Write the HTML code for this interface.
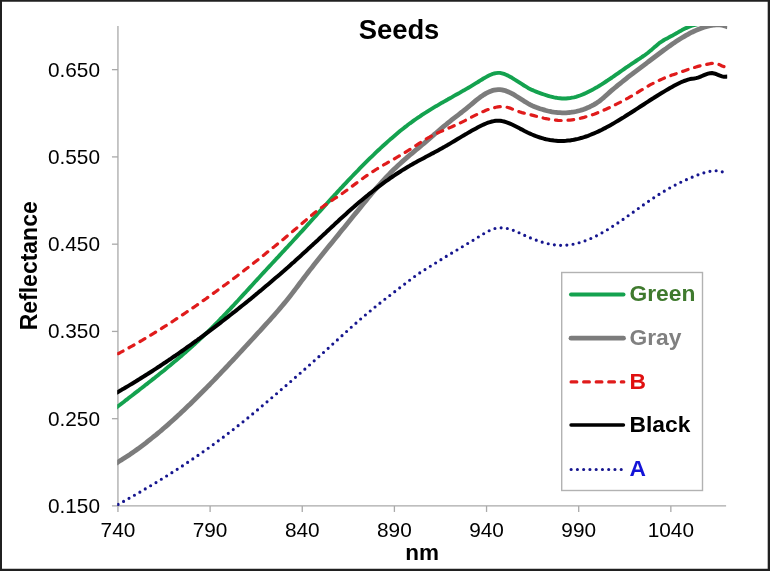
<!DOCTYPE html>
<html><head><meta charset="utf-8"><title>Seeds</title>
<style>
html,body{margin:0;padding:0;background:#fff;}
body{width:770px;height:571px;overflow:hidden;font-family:"Liberation Sans",sans-serif;}
svg{display:block;will-change:transform;}
</style></head><body>
<svg width="770" height="571" viewBox="0 0 770 571">
<rect x="0" y="0" width="770" height="571" fill="#fff"/>
<defs><clipPath id="cp"><rect x="117.2" y="26.1" width="610.0" height="482.8"/></clipPath></defs>
<g stroke="#a9a9a9" stroke-width="1.3" fill="none">
<path d="M117.95 26.10V511.95"/>
<path d="M111.95 505.95H726.10"/>
<path d="M210.10 505.95v6"/>
<path d="M302.25 505.95v6"/>
<path d="M394.40 505.95v6"/>
<path d="M486.55 505.95v6"/>
<path d="M578.70 505.95v6"/>
<path d="M670.85 505.95v6"/>
<path d="M117.95 418.69h-6"/>
<path d="M117.95 331.43h-6"/>
<path d="M117.95 244.17h-6"/>
<path d="M117.95 156.91h-6"/>
<path d="M117.95 69.65h-6"/>
</g>
<g clip-path="url(#cp)" fill="none" stroke-linejoin="round">
<path d="M113.0 410.2L118.0 406.3L120.0 404.8L122.0 403.2L124.0 401.7L126.0 400.1L128.0 398.6L130.0 397.0L132.0 395.5L134.0 393.9L136.0 392.4L138.0 390.9L140.0 389.3L142.0 387.8L144.0 386.2L146.0 384.6L148.0 383.1L150.0 381.5L152.0 379.9L154.0 378.4L156.0 376.8L158.0 375.2L160.0 373.6L162.0 372.0L164.0 370.4L166.0 368.7L168.0 367.1L170.0 365.5L172.0 363.8L174.0 362.1L176.0 360.5L178.0 358.8L180.0 357.1L182.0 355.4L184.0 353.6L186.0 351.9L188.0 350.1L190.0 348.3L192.0 346.6L194.0 344.7L196.0 342.9L198.0 341.1L200.0 339.2L202.0 337.3L204.0 335.4L206.0 333.5L208.0 331.6L210.0 329.6L212.0 327.7L214.0 325.7L216.0 323.6L218.0 321.6L220.0 319.5L222.0 317.5L224.0 315.4L226.0 313.3L228.0 311.2L230.0 309.1L232.0 306.9L234.0 304.8L236.0 302.6L238.0 300.5L240.0 298.3L242.0 296.1L244.0 293.9L246.0 291.8L248.0 289.6L250.0 287.4L252.0 285.2L254.0 283.0L256.0 280.8L258.0 278.7L260.0 276.5L262.0 274.3L264.0 272.1L266.0 270.0L268.0 267.8L270.0 265.7L272.0 263.5L274.0 261.4L276.0 259.2L278.0 257.1L280.0 254.9L282.0 252.7L284.0 250.6L286.0 248.4L288.0 246.3L290.0 244.1L292.0 242.0L294.0 239.8L296.0 237.6L298.0 235.4L300.0 233.2L302.0 231.1L304.0 228.9L306.0 226.7L308.0 224.4L310.0 222.2L312.0 220.0L314.0 217.8L316.0 215.6L318.0 213.3L320.0 211.1L322.0 208.9L324.0 206.7L326.0 204.5L328.0 202.3L330.0 200.1L332.0 197.9L334.0 195.7L336.0 193.6L338.0 191.4L340.0 189.2L342.0 187.1L344.0 184.9L346.0 182.8L348.0 180.7L350.0 178.6L352.0 176.5L354.0 174.4L356.0 172.3L358.0 170.3L360.0 168.2L362.0 166.2L364.0 164.2L366.0 162.2L368.0 160.2L370.0 158.2L372.0 156.3L374.0 154.4L376.0 152.4L378.0 150.5L380.0 148.7L382.0 146.8L384.0 145.0L386.0 143.2L388.0 141.4L390.0 139.6L392.0 137.9L394.0 136.2L396.0 134.5L398.0 132.8L400.0 131.1L402.0 129.5L404.0 127.9L406.0 126.4L408.0 124.8L410.0 123.3L412.0 121.9L414.0 120.4L416.0 119.0L418.0 117.6L420.0 116.3L422.0 114.9L424.0 113.6L426.0 112.4L428.0 111.1L430.0 109.8L432.0 108.6L434.0 107.4L436.0 106.2L438.0 105.1L440.0 103.9L442.0 102.7L444.0 101.6L446.0 100.5L448.0 99.3L450.0 98.2L452.0 97.1L454.0 95.9L456.0 94.8L458.0 93.7L460.0 92.6L462.0 91.4L464.0 90.3L466.0 89.1L468.0 88.0L470.0 86.8L472.0 85.6L474.0 84.4L476.0 83.2L478.0 82.0L480.0 80.7L482.0 79.5L484.0 78.2L486.0 77.1L488.0 76.0L490.0 75.0L492.0 74.2L494.0 73.5L496.0 73.1L498.0 72.9L500.0 72.9L502.0 73.3L504.0 73.9L506.0 74.7L508.0 75.6L510.0 76.7L512.0 77.8L514.0 79.1L516.0 80.3L518.0 81.6L520.0 82.9L522.0 84.2L524.0 85.5L526.0 86.7L528.0 87.9L530.0 88.9L532.0 89.9L534.0 90.8L536.0 91.6L538.0 92.4L540.0 93.1L542.0 93.8L544.0 94.5L546.0 95.2L548.0 95.8L550.0 96.4L552.0 96.9L554.0 97.4L556.0 97.7L558.0 98.1L560.0 98.3L562.0 98.5L564.0 98.5L566.0 98.5L568.0 98.3L570.0 98.1L572.0 97.7L574.0 97.3L576.0 96.8L578.0 96.2L580.0 95.5L582.0 94.7L584.0 93.9L586.0 93.0L588.0 92.0L590.0 91.0L592.0 90.0L594.0 88.9L596.0 87.7L598.0 86.6L600.0 85.3L602.0 84.1L604.0 82.8L606.0 81.5L608.0 80.2L610.0 78.8L612.0 77.5L614.0 76.1L616.0 74.7L618.0 73.3L620.0 71.9L622.0 70.5L624.0 69.1L626.0 67.7L628.0 66.4L630.0 65.0L632.0 63.6L634.0 62.3L636.0 61.0L638.0 59.7L640.0 58.4L642.0 57.0L644.0 55.7L646.0 54.2L648.0 52.7L650.0 51.1L652.0 49.4L654.0 47.6L656.0 45.9L658.0 44.2L660.0 42.6L662.0 41.3L664.0 40.0L666.0 38.9L668.0 37.9L670.0 36.8L672.0 35.8L674.0 34.6L676.0 33.5L678.0 32.4L680.0 31.2L682.0 30.1L684.0 29.1L686.0 28.1L688.0 27.2L690.0 26.4L692.0 25.7L694.0 25.2L696.0 24.6L698.0 24.1L700.0 23.5L702.0 22.9L704.0 22.2L706.0 21.4L708.0 20.7L710.0 19.9L712.0 19.2L714.0 18.4L716.0 17.8L718.0 17.1L720.0 16.6L722.0 16.1L724.0 15.8L726.0 15.6L728.0 15.5" stroke="#14a24f" stroke-width="3.9"/>
<path d="M113.0 465.1L118.0 462.1L120.0 460.8L122.0 459.6L124.0 458.3L126.0 457.0L128.0 455.7L130.0 454.4L132.0 453.0L134.0 451.6L136.0 450.2L138.0 448.8L140.0 447.3L142.0 445.8L144.0 444.3L146.0 442.8L148.0 441.2L150.0 439.6L152.0 438.0L154.0 436.4L156.0 434.8L158.0 433.1L160.0 431.5L162.0 429.8L164.0 428.0L166.0 426.3L168.0 424.6L170.0 422.8L172.0 421.0L174.0 419.2L176.0 417.4L178.0 415.5L180.0 413.7L182.0 411.8L184.0 409.9L186.0 408.0L188.0 406.1L190.0 404.2L192.0 402.2L194.0 400.3L196.0 398.3L198.0 396.3L200.0 394.3L202.0 392.3L204.0 390.3L206.0 388.3L208.0 386.2L210.0 384.2L212.0 382.1L214.0 380.1L216.0 378.0L218.0 375.9L220.0 373.8L222.0 371.7L224.0 369.6L226.0 367.5L228.0 365.4L230.0 363.2L232.0 361.1L234.0 359.0L236.0 356.8L238.0 354.7L240.0 352.5L242.0 350.3L244.0 348.2L246.0 346.0L248.0 343.8L250.0 341.7L252.0 339.5L254.0 337.3L256.0 335.1L258.0 332.9L260.0 330.8L262.0 328.6L264.0 326.4L266.0 324.2L268.0 322.0L270.0 319.8L272.0 317.5L274.0 315.3L276.0 313.0L278.0 310.7L280.0 308.4L282.0 306.0L284.0 303.6L286.0 301.2L288.0 298.7L290.0 296.2L292.0 293.6L294.0 291.0L296.0 288.4L298.0 285.7L300.0 283.0L302.0 280.4L304.0 277.7L306.0 275.1L308.0 272.5L310.0 269.9L312.0 267.4L314.0 264.8L316.0 262.3L318.0 259.8L320.0 257.3L322.0 254.8L324.0 252.3L326.0 249.8L328.0 247.3L330.0 244.9L332.0 242.4L334.0 240.0L336.0 237.5L338.0 235.1L340.0 232.6L342.0 230.1L344.0 227.7L346.0 225.2L348.0 222.8L350.0 220.3L352.0 217.8L354.0 215.3L356.0 212.9L358.0 210.4L360.0 207.9L362.0 205.5L364.0 203.0L366.0 200.6L368.0 198.1L370.0 195.7L372.0 193.3L374.0 191.0L376.0 188.6L378.0 186.3L380.0 184.1L382.0 181.8L384.0 179.6L386.0 177.5L388.0 175.4L390.0 173.3L392.0 171.3L394.0 169.3L396.0 167.4L398.0 165.5L400.0 163.7L402.0 161.9L404.0 160.1L406.0 158.4L408.0 156.6L410.0 154.9L412.0 153.3L414.0 151.6L416.0 149.9L418.0 148.3L420.0 146.6L422.0 144.9L424.0 143.3L426.0 141.6L428.0 139.9L430.0 138.2L432.0 136.5L434.0 134.7L436.0 133.0L438.0 131.3L440.0 129.6L442.0 127.9L444.0 126.2L446.0 124.6L448.0 122.9L450.0 121.3L452.0 119.7L454.0 118.1L456.0 116.6L458.0 115.1L460.0 113.5L462.0 112.0L464.0 110.4L466.0 108.8L468.0 107.2L470.0 105.5L472.0 103.8L474.0 102.1L476.0 100.4L478.0 98.8L480.0 97.3L482.0 95.9L484.0 94.6L486.0 93.4L488.0 92.4L490.0 91.5L492.0 90.7L494.0 90.2L496.0 89.8L498.0 89.6L500.0 89.6L502.0 89.8L504.0 90.3L506.0 90.9L508.0 91.7L510.0 92.6L512.0 93.6L514.0 94.7L516.0 96.0L518.0 97.2L520.0 98.5L522.0 99.8L524.0 101.1L526.0 102.3L528.0 103.5L530.0 104.6L532.0 105.6L534.0 106.5L536.0 107.3L538.0 108.0L540.0 108.7L542.0 109.3L544.0 109.9L546.0 110.5L548.0 111.0L550.0 111.4L552.0 111.8L554.0 112.1L556.0 112.3L558.0 112.6L560.0 112.7L562.0 112.8L564.0 112.8L566.0 112.8L568.0 112.6L570.0 112.5L572.0 112.2L574.0 111.9L576.0 111.5L578.0 111.0L580.0 110.5L582.0 109.9L584.0 109.2L586.0 108.4L588.0 107.6L590.0 106.7L592.0 105.7L594.0 104.6L596.0 103.4L598.0 102.1L600.0 100.7L602.0 99.0L604.0 97.3L606.0 95.5L608.0 93.7L610.0 91.9L612.0 90.2L614.0 88.5L616.0 86.9L618.0 85.2L620.0 83.6L622.0 82.0L624.0 80.4L626.0 78.8L628.0 77.2L630.0 75.7L632.0 74.2L634.0 72.6L636.0 71.1L638.0 69.6L640.0 68.1L642.0 66.6L644.0 65.1L646.0 63.6L648.0 62.0L650.0 60.5L652.0 59.0L654.0 57.5L656.0 56.0L658.0 54.5L660.0 53.0L662.0 51.5L664.0 50.0L666.0 48.6L668.0 47.1L670.0 45.7L672.0 44.3L674.0 42.9L676.0 41.6L678.0 40.3L680.0 39.0L682.0 37.8L684.0 36.6L686.0 35.4L688.0 34.3L690.0 33.2L692.0 32.2L694.0 31.3L696.0 30.4L698.0 29.5L700.0 28.7L702.0 28.0L704.0 27.3L706.0 26.7L708.0 26.2L710.0 25.7L712.0 25.3L714.0 25.0L716.0 24.8L718.0 24.8L720.0 24.9L722.0 25.2L724.0 25.6L726.0 26.2L728.0 27.1" stroke="#7c7c7c" stroke-width="4.8"/>
<path d="M118.0 353.7L120.0 352.7L122.0 351.6L124.0 350.5L126.0 349.4L128.0 348.3L130.0 347.2L132.0 346.1L134.0 345.0L136.0 343.8L138.0 342.7L140.0 341.5L142.0 340.4L144.0 339.2L146.0 338.0L148.0 336.8L150.0 335.6L152.0 334.4L154.0 333.2L156.0 331.9L158.0 330.7L160.0 329.5L162.0 328.2L164.0 326.9L166.0 325.7L168.0 324.4L170.0 323.1L172.0 321.8L174.0 320.5L176.0 319.2L178.0 317.9L180.0 316.5L182.0 315.2L184.0 313.9L186.0 312.5L188.0 311.2L190.0 309.8L192.0 308.4L194.0 307.1L196.0 305.7L198.0 304.3L200.0 302.9L202.0 301.5L204.0 300.1L206.0 298.7L208.0 297.2L210.0 295.8L212.0 294.4L214.0 292.9L216.0 291.5L218.0 290.0L220.0 288.6L222.0 287.1L224.0 285.6L226.0 284.2L228.0 282.7L230.0 281.2L232.0 279.7L234.0 278.2L236.0 276.7L238.0 275.2L240.0 273.6L242.0 272.1L244.0 270.6L246.0 269.0L248.0 267.5L250.0 265.9L252.0 264.4L254.0 262.8L256.0 261.2L258.0 259.7L260.0 258.1L262.0 256.5L264.0 254.9L266.0 253.3L268.0 251.7L270.0 250.1L272.0 248.5L274.0 246.9L276.0 245.2L278.0 243.6L280.0 242.0L282.0 240.3L284.0 238.7L286.0 237.0L288.0 235.3L290.0 233.7L292.0 232.0L294.0 230.3L296.0 228.6L298.0 226.9L300.0 225.2L302.0 223.5L304.0 221.8L306.0 220.1L308.0 218.4L310.0 216.7L312.0 215.0L314.0 213.3L316.0 211.7L318.0 210.1L320.0 208.6L322.0 207.2L324.0 205.7L326.0 204.4L328.0 203.0L330.0 201.7L332.0 200.3L334.0 199.0L336.0 197.7L338.0 196.4L340.0 195.0L342.0 193.7L344.0 192.3L346.0 190.8L348.0 189.4L350.0 187.9L352.0 186.4L354.0 184.9L356.0 183.4L358.0 181.9L360.0 180.4L362.0 179.0L364.0 177.5L366.0 176.1L368.0 174.7L370.0 173.3L372.0 172.0L374.0 170.8L376.0 169.5L378.0 168.3L380.0 167.1L382.0 165.9L384.0 164.7L386.0 163.6L388.0 162.4L390.0 161.3L392.0 160.1L394.0 159.0L396.0 157.8L398.0 156.7L400.0 155.5L402.0 154.3L404.0 153.1L406.0 151.9L408.0 150.7L410.0 149.4L412.0 148.1L414.0 146.8L416.0 145.5L418.0 144.1L420.0 142.8L422.0 141.5L424.0 140.2L426.0 139.0L428.0 137.9L430.0 136.8L432.0 135.7L434.0 134.7L436.0 133.7L438.0 132.8L440.0 131.9L442.0 131.0L444.0 130.1L446.0 129.3L448.0 128.4L450.0 127.6L452.0 126.7L454.0 125.8L456.0 124.9L458.0 124.0L460.0 123.1L462.0 122.1L464.0 121.1L466.0 120.0L468.0 119.0L470.0 118.0L472.0 116.9L474.0 115.9L476.0 114.9L478.0 113.9L480.0 113.0L482.0 112.0L484.0 111.2L486.0 110.3L488.0 109.6L490.0 108.9L492.0 108.3L494.0 107.7L496.0 107.3L498.0 106.9L500.0 106.7L502.0 106.7L504.0 106.8L506.0 107.0L508.0 107.5L510.0 108.1L512.0 108.9L514.0 109.8L516.0 110.6L518.0 111.4L520.0 112.0L522.0 112.6L524.0 113.1L526.0 113.6L528.0 114.1L530.0 114.6L532.0 115.1L534.0 115.6L536.0 116.2L538.0 116.7L540.0 117.2L542.0 117.7L544.0 118.2L546.0 118.6L548.0 119.0L550.0 119.4L552.0 119.7L554.0 120.0L556.0 120.2L558.0 120.4L560.0 120.5L562.0 120.5L564.0 120.5L566.0 120.4L568.0 120.2L570.0 120.1L572.0 119.8L574.0 119.5L576.0 119.2L578.0 118.8L580.0 118.4L582.0 117.9L584.0 117.4L586.0 116.8L588.0 116.2L590.0 115.5L592.0 114.9L594.0 114.2L596.0 113.4L598.0 112.6L600.0 111.8L602.0 111.0L604.0 110.1L606.0 109.2L608.0 108.3L610.0 107.4L612.0 106.4L614.0 105.4L616.0 104.4L618.0 103.4L620.0 102.4L622.0 101.3L624.0 100.3L626.0 99.2L628.0 98.1L630.0 96.9L632.0 95.8L634.0 94.6L636.0 93.4L638.0 92.2L640.0 90.9L642.0 89.7L644.0 88.5L646.0 87.2L648.0 86.1L650.0 84.9L652.0 83.9L654.0 82.8L656.0 81.8L658.0 80.9L660.0 80.0L662.0 79.1L664.0 78.2L666.0 77.4L668.0 76.6L670.0 75.9L672.0 75.1L674.0 74.4L676.0 73.7L678.0 72.9L680.0 72.2L682.0 71.6L684.0 70.9L686.0 70.2L688.0 69.5L690.0 68.9L692.0 68.2L694.0 67.6L696.0 67.0L698.0 66.4L700.0 65.9L702.0 65.4L704.0 64.9L706.0 64.5L708.0 64.1L710.0 63.7L712.0 63.4L714.0 63.3L716.0 63.4L718.0 64.0L720.0 64.9L722.0 66.0L724.0 66.6" stroke="#e01b1b" stroke-width="3.2" stroke-linecap="round" stroke-dasharray="5.7 6.85"/>
<path d="M113.0 394.8L118.0 391.9L120.0 390.8L122.0 389.6L124.0 388.5L126.0 387.3L128.0 386.1L130.0 384.9L132.0 383.7L134.0 382.5L136.0 381.3L138.0 380.0L140.0 378.8L142.0 377.5L144.0 376.3L146.0 375.0L148.0 373.8L150.0 372.5L152.0 371.2L154.0 369.9L156.0 368.6L158.0 367.3L160.0 366.0L162.0 364.6L164.0 363.3L166.0 362.0L168.0 360.6L170.0 359.3L172.0 357.9L174.0 356.5L176.0 355.2L178.0 353.8L180.0 352.4L182.0 351.0L184.0 349.6L186.0 348.2L188.0 346.7L190.0 345.3L192.0 343.9L194.0 342.4L196.0 341.0L198.0 339.5L200.0 338.1L202.0 336.6L204.0 335.1L206.0 333.6L208.0 332.1L210.0 330.6L212.0 329.1L214.0 327.6L216.0 326.1L218.0 324.6L220.0 323.1L222.0 321.5L224.0 320.0L226.0 318.4L228.0 316.9L230.0 315.3L232.0 313.7L234.0 312.2L236.0 310.6L238.0 309.0L240.0 307.4L242.0 305.8L244.0 304.2L246.0 302.6L248.0 301.0L250.0 299.4L252.0 297.7L254.0 296.1L256.0 294.4L258.0 292.8L260.0 291.1L262.0 289.5L264.0 287.8L266.0 286.1L268.0 284.4L270.0 282.7L272.0 281.0L274.0 279.3L276.0 277.6L278.0 275.9L280.0 274.2L282.0 272.4L284.0 270.7L286.0 268.9L288.0 267.2L290.0 265.4L292.0 263.6L294.0 261.9L296.0 260.1L298.0 258.3L300.0 256.5L302.0 254.6L304.0 252.8L306.0 251.0L308.0 249.1L310.0 247.3L312.0 245.4L314.0 243.6L316.0 241.7L318.0 239.9L320.0 238.0L322.0 236.1L324.0 234.2L326.0 232.4L328.0 230.5L330.0 228.6L332.0 226.7L334.0 224.9L336.0 223.0L338.0 221.2L340.0 219.3L342.0 217.5L344.0 215.7L346.0 213.9L348.0 212.1L350.0 210.3L352.0 208.5L354.0 206.8L356.0 205.0L358.0 203.3L360.0 201.6L362.0 199.9L364.0 198.2L366.0 196.6L368.0 195.0L370.0 193.3L372.0 191.8L374.0 190.2L376.0 188.6L378.0 187.1L380.0 185.6L382.0 184.1L384.0 182.6L386.0 181.2L388.0 179.8L390.0 178.3L392.0 177.0L394.0 175.6L396.0 174.3L398.0 173.0L400.0 171.7L402.0 170.4L404.0 169.2L406.0 168.0L408.0 166.8L410.0 165.6L412.0 164.5L414.0 163.3L416.0 162.2L418.0 161.1L420.0 160.0L422.0 159.0L424.0 157.9L426.0 156.8L428.0 155.8L430.0 154.7L432.0 153.6L434.0 152.6L436.0 151.5L438.0 150.4L440.0 149.3L442.0 148.2L444.0 147.1L446.0 145.9L448.0 144.8L450.0 143.6L452.0 142.4L454.0 141.2L456.0 140.0L458.0 138.8L460.0 137.6L462.0 136.4L464.0 135.2L466.0 134.1L468.0 132.9L470.0 131.7L472.0 130.6L474.0 129.5L476.0 128.4L478.0 127.3L480.0 126.3L482.0 125.3L484.0 124.4L486.0 123.5L488.0 122.7L490.0 122.1L492.0 121.5L494.0 121.1L496.0 120.8L498.0 120.7L500.0 120.8L502.0 121.1L504.0 121.5L506.0 122.1L508.0 122.8L510.0 123.6L512.0 124.5L514.0 125.5L516.0 126.5L518.0 127.5L520.0 128.6L522.0 129.6L524.0 130.7L526.0 131.7L528.0 132.7L530.0 133.6L532.0 134.5L534.0 135.3L536.0 136.1L538.0 136.8L540.0 137.5L542.0 138.1L544.0 138.7L546.0 139.2L548.0 139.6L550.0 140.0L552.0 140.3L554.0 140.6L556.0 140.7L558.0 140.9L560.0 140.9L562.0 140.9L564.0 140.9L566.0 140.8L568.0 140.6L570.0 140.4L572.0 140.1L574.0 139.7L576.0 139.3L578.0 138.9L580.0 138.3L582.0 137.8L584.0 137.2L586.0 136.5L588.0 135.8L590.0 135.0L592.0 134.2L594.0 133.4L596.0 132.5L598.0 131.6L600.0 130.6L602.0 129.7L604.0 128.6L606.0 127.6L608.0 126.5L610.0 125.4L612.0 124.3L614.0 123.1L616.0 121.9L618.0 120.7L620.0 119.5L622.0 118.3L624.0 117.1L626.0 115.8L628.0 114.5L630.0 113.3L632.0 112.0L634.0 110.7L636.0 109.4L638.0 108.1L640.0 106.8L642.0 105.5L644.0 104.2L646.0 102.9L648.0 101.6L650.0 100.3L652.0 99.0L654.0 97.8L656.0 96.5L658.0 95.2L660.0 94.0L662.0 92.8L664.0 91.6L666.0 90.4L668.0 89.2L670.0 88.0L672.0 86.9L674.0 85.8L676.0 84.7L678.0 83.7L680.0 82.7L682.0 81.8L684.0 81.0L686.0 80.3L688.0 79.6L690.0 79.1L692.0 78.8L694.0 78.5L696.0 78.1L698.0 77.6L700.0 76.9L702.0 76.0L704.0 75.1L706.0 74.3L708.0 73.6L710.0 73.2L712.0 73.1L714.0 73.4L716.0 74.0L718.0 74.9L720.0 75.7L722.0 76.4L724.0 76.8L726.0 76.8L728.0 76.2" stroke="#000" stroke-width="4"/>
<path d="M118.1 504.4L120.1 503.3L122.1 502.2L124.1 501.1L126.1 500.0L128.1 498.8L130.1 497.7L132.1 496.6L134.1 495.4L136.1 494.3L138.1 493.1L140.1 492.0L142.1 490.8L144.1 489.6L146.1 488.4L148.1 487.3L150.1 486.1L152.1 484.9L154.1 483.7L156.1 482.5L158.1 481.2L160.1 480.0L162.1 478.8L164.1 477.5L166.1 476.3L168.1 475.0L170.1 473.8L172.1 472.5L174.1 471.2L176.1 470.0L178.1 468.7L180.1 467.4L182.1 466.1L184.1 464.8L186.1 463.4L188.1 462.1L190.1 460.8L192.1 459.4L194.1 458.1L196.1 456.7L198.1 455.3L200.1 453.9L202.1 452.5L204.1 451.1L206.1 449.7L208.1 448.3L210.1 446.9L212.1 445.4L214.1 444.0L216.1 442.5L218.1 441.0L220.1 439.6L222.1 438.1L224.1 436.6L226.1 435.1L228.1 433.5L230.1 432.0L232.1 430.4L234.1 428.9L236.1 427.3L238.1 425.7L240.1 424.2L242.1 422.6L244.1 420.9L246.1 419.3L248.1 417.7L250.1 416.0L252.1 414.4L254.1 412.7L256.1 411.1L258.1 409.4L260.1 407.7L262.1 406.0L264.1 404.3L266.1 402.6L268.1 400.9L270.1 399.2L272.1 397.5L274.1 395.8L276.1 394.1L278.1 392.4L280.1 390.6L282.1 388.9L284.1 387.2L286.1 385.5L288.1 383.7L290.1 382.0L292.1 380.3L294.1 378.5L296.1 376.8L298.1 375.0L300.1 373.3L302.1 371.5L304.1 369.8L306.1 368.0L308.1 366.3L310.1 364.5L312.1 362.7L314.1 360.9L316.1 359.2L318.1 357.4L320.1 355.6L322.1 353.8L324.1 352.0L326.1 350.2L328.1 348.4L330.1 346.6L332.1 344.7L334.1 342.9L336.1 341.1L338.1 339.2L340.1 337.4L342.1 335.6L344.1 333.8L346.1 331.9L348.1 330.1L350.1 328.3L352.1 326.5L354.1 324.7L356.1 323.0L358.1 321.2L360.1 319.5L362.1 317.8L364.1 316.1L366.1 314.4L368.1 312.7L370.1 311.1L372.1 309.4L374.1 307.8L376.1 306.2L378.1 304.6L380.1 303.0L382.1 301.5L384.1 299.9L386.1 298.3L388.1 296.8L390.1 295.2L392.1 293.7L394.1 292.2L396.1 290.6L398.1 289.1L400.1 287.5L402.1 286.0L404.1 284.5L406.1 282.9L408.1 281.4L410.1 279.9L412.1 278.4L414.1 276.9L416.1 275.4L418.1 274.1L420.1 272.7L422.1 271.4L424.1 270.1L426.1 268.9L428.1 267.6L430.1 266.4L432.1 265.1L434.1 263.9L436.1 262.7L438.1 261.4L440.1 260.2L442.1 259.0L444.1 257.8L446.1 256.5L448.1 255.3L450.1 254.1L452.1 252.9L454.1 251.7L456.1 250.5L458.1 249.3L460.1 248.1L462.1 246.9L464.1 245.7L466.1 244.5L468.1 243.3L470.1 242.1L472.1 240.9L474.1 239.7L476.1 238.4L478.1 237.2L480.1 235.9L482.1 234.7L484.1 233.5L486.1 232.3L488.1 231.2L490.1 230.3L492.1 229.4L494.1 228.7L496.1 228.2L498.1 227.9L500.1 227.8L502.1 227.8L504.1 227.9L506.1 228.3L508.1 228.7L510.1 229.2L512.1 229.9L514.1 230.6L516.1 231.4L518.1 232.3L520.1 233.2L522.1 234.2L524.1 235.1L526.1 236.0L528.1 236.9L530.1 237.8L532.1 238.6L534.1 239.4L536.1 240.1L538.1 240.8L540.1 241.5L542.1 242.1L544.1 242.7L546.1 243.2L548.1 243.7L550.1 244.1L552.1 244.5L554.1 244.8L556.1 245.0L558.1 245.2L560.1 245.3L562.1 245.3L564.1 245.3L566.1 245.1L568.1 245.0L570.1 244.7L572.1 244.4L574.1 244.0L576.1 243.5L578.1 243.0L580.1 242.5L582.1 241.8L584.1 241.2L586.1 240.4L588.1 239.6L590.1 238.8L592.1 237.9L594.1 237.0L596.1 236.0L598.1 235.0L600.1 233.9L602.1 232.8L604.1 231.6L606.1 230.5L608.1 229.3L610.1 228.0L612.1 226.7L614.1 225.4L616.1 224.1L618.1 222.8L620.1 221.4L622.1 220.1L624.1 218.7L626.1 217.3L628.1 215.8L630.1 214.4L632.1 213.0L634.1 211.6L636.1 210.1L638.1 208.7L640.1 207.3L642.1 205.9L644.1 204.4L646.1 203.0L648.1 201.6L650.1 200.3L652.1 198.9L654.1 197.6L656.1 196.3L658.1 195.0L660.1 193.7L662.1 192.5L664.1 191.3L666.1 190.1L668.1 188.9L670.1 187.8L672.1 186.7L674.1 185.6L676.1 184.6L678.1 183.6L680.1 182.6L682.1 181.6L684.1 180.7L686.1 179.8L688.1 178.9L690.1 178.0L692.1 177.2L694.1 176.3L696.1 175.6L698.1 174.8L700.1 174.1L702.1 173.4L704.1 172.8L706.1 172.2L708.1 171.7L710.1 171.3L712.1 171.0L714.1 170.7L716.1 170.7L718.1 170.8L720.1 171.1L722.1 171.8L722.3 171.8" stroke="#16168f" stroke-width="3.15" stroke-linecap="round" stroke-dasharray="0 6.2488"/>
</g>
<g font-family="Liberation Sans, sans-serif" font-size="20.8" fill="#000">
<text x="117.95" y="537.0" text-anchor="middle">740</text>
<text x="210.10" y="537.0" text-anchor="middle">790</text>
<text x="302.25" y="537.0" text-anchor="middle">840</text>
<text x="394.40" y="537.0" text-anchor="middle">890</text>
<text x="486.55" y="537.0" text-anchor="middle">940</text>
<text x="578.70" y="537.0" text-anchor="middle">990</text>
<text x="670.85" y="537.0" text-anchor="middle">1040</text>
<text x="100" y="512.95" text-anchor="end">0.150</text>
<text x="100" y="425.69" text-anchor="end">0.250</text>
<text x="100" y="338.43" text-anchor="end">0.350</text>
<text x="100" y="251.17" text-anchor="end">0.450</text>
<text x="100" y="163.91" text-anchor="end">0.550</text>
<text x="100" y="76.65" text-anchor="end">0.650</text>
</g>
<g font-family="Liberation Sans, sans-serif" font-weight="bold" fill="#000">
<text x="399" y="38.6" font-size="27.4" text-anchor="middle">Seeds</text>
<text x="422.1" y="560.4" font-size="22.5" text-anchor="middle">nm</text>
<text transform="translate(37.3 265.8) rotate(-90)" font-size="23" text-anchor="middle">Reflectance</text>
</g>
<rect x="561.7" y="272.5" width="140.8" height="218" fill="#fff" stroke="#b2b2b2" stroke-width="1.4"/>
<g fill="none">
<path d="M571 294.50H623.5" stroke="#14a24f" stroke-width="4" stroke-linecap="round"/>
<path d="M571 338.20H623.5" stroke="#7c7c7c" stroke-width="4.8" stroke-linecap="round"/>
<path d="M571.05 381.90H623.85" stroke="#e01b1b" stroke-width="3.1" stroke-linecap="round" stroke-dasharray="5.8 6.75"/>
<path d="M571 425.00H623.5" stroke="#000" stroke-width="3.4" stroke-linecap="round"/>
<path d="M571.14 469.50H622" stroke="#16168f" stroke-width="3.15" stroke-linecap="round" stroke-dasharray="0 6.26"/>
</g>
<g font-family="Liberation Sans, sans-serif" font-weight="bold" font-size="22.8">
<text x="629.5" y="301.40" fill="#3f7a2e">Green</text>
<text x="629.5" y="345.10" fill="#808080">Gray</text>
<text x="629.5" y="388.80" fill="#e01010">B</text>
<text x="629.5" y="431.90" fill="#000">Black</text>
<text x="629.5" y="476.40" fill="#1414d8">A</text>
</g>
<path d="M0 0H770V571H0Z M2 1.8H767.7V568.7H2Z" fill="#202020" fill-rule="evenodd"/>
</svg>
</body></html>
